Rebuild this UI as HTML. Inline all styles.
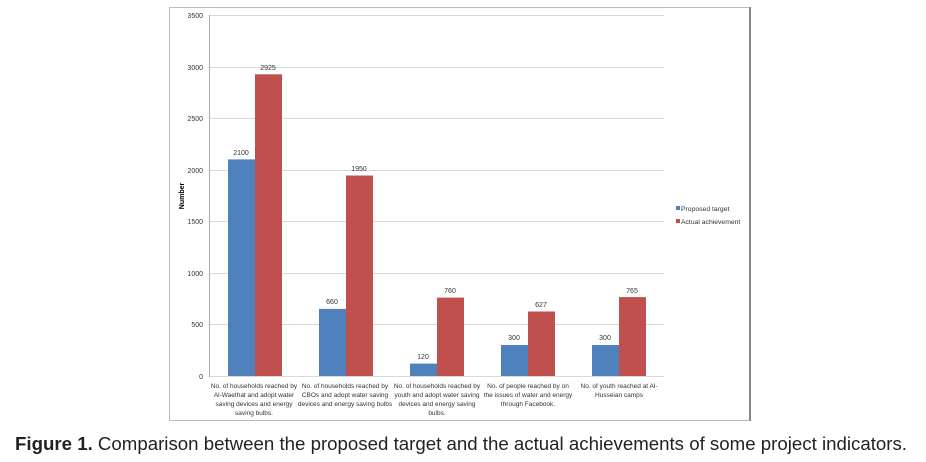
<!DOCTYPE html>
<html><head><style>
body{margin:0;background:#fff;width:926px;height:462px;overflow:hidden;font-family:"Liberation Sans",sans-serif}
</style></head><body>
<svg width="926" height="462" style="position:absolute;left:0;top:0" font-family="Liberation Sans, sans-serif">
<rect x="169.5" y="7.5" width="580" height="413" fill="#fff" stroke="#bbb" stroke-width="1"/>
<line x1="750" y1="7" x2="750" y2="421" stroke="#888" stroke-width="2"/>
<g stroke="#d9d9d9" stroke-width="1">
<line x1="209" y1="15.5" x2="664" y2="15.5"/>
<line x1="209" y1="67.5" x2="664" y2="67.5"/>
<line x1="209" y1="118.5" x2="664" y2="118.5"/>
<line x1="209" y1="170.5" x2="664" y2="170.5"/>
<line x1="209" y1="221.5" x2="664" y2="221.5"/>
<line x1="209" y1="273.5" x2="664" y2="273.5"/>
<line x1="209" y1="324.5" x2="664" y2="324.5"/>
<line x1="209" y1="376.5" x2="664" y2="376.5"/>
</g>
<line x1="209.5" y1="15" x2="209.5" y2="377" stroke="#aaa"/>
<g font-size="7" fill="#333" text-anchor="end">
<text x="203" y="18">3500</text><text x="203" y="70">3000</text><text x="203" y="121">2500</text>
<text x="203" y="173">2000</text><text x="203" y="224">1500</text><text x="203" y="276">1000</text>
<text x="203" y="327">500</text><text x="203" y="379">0</text>
</g>
<text x="184" y="196" font-size="7" font-weight="bold" transform="rotate(-90 184 196)" text-anchor="middle">Number</text>
<g fill="#4f81bd">
<rect x="228" y="159.4" width="27" height="216.6"/>
<rect x="319" y="308.9" width="27" height="67.1"/>
<rect x="410" y="363.6" width="27" height="12.4"/>
<rect x="501" y="345" width="27" height="31"/>
<rect x="592" y="345" width="27" height="31"/>
</g>
<g fill="#c0504d">
<rect x="255" y="74.3" width="27" height="301.7"/>
<rect x="346" y="175.5" width="27" height="200.5"/>
<rect x="437" y="297.6" width="27" height="78.4"/>
<rect x="528" y="311.5" width="27" height="64.5"/>
<rect x="619" y="297.1" width="27" height="78.9"/>
</g>
<g font-size="7" fill="#333" text-anchor="middle">
<text x="241" y="155">2100</text><text x="268" y="70">2925</text>
<text x="332" y="304">660</text><text x="359" y="171">1950</text>
<text x="423" y="359">120</text><text x="450" y="293">760</text>
<text x="514" y="340">300</text><text x="541" y="307">627</text>
<text x="605" y="340">300</text><text x="632" y="293">765</text>
</g>
<g font-size="6.5" fill="#333" text-anchor="middle">
<text x="254" y="388">No. of households reached by</text><text x="254" y="397">Al-Waethat and adopt water</text><text x="254" y="406">saving devices and energy</text><text x="254" y="415">saving bulbs.</text>
<text x="345" y="388">No. of households reached by</text><text x="345" y="397">CBOs and adopt water saving</text><text x="345" y="406">devices and energy saving bulbs</text>
<text x="437" y="388">No. of households reached by</text><text x="437" y="397">youth and adopt water saving</text><text x="437" y="406">devices and energy saving</text><text x="437" y="415">bulbs.</text>
<text x="528" y="388">No. of people reached by on</text><text x="528" y="397">the issues of water and energy</text><text x="528" y="406">through Facebook.</text>
<text x="619" y="388">No. of youth reached at Al-</text><text x="619" y="397">Husseian camps</text>
</g>
<rect x="676" y="206" width="4" height="4" fill="#4f81bd"/>
<rect x="676" y="219" width="4" height="4" fill="#c0504d"/>
<g font-size="6.8" fill="#333"><text x="681" y="211">Proposed target</text><text x="681" y="224">Actual achievement</text></g>
<text x="15" y="450" font-size="18" fill="#222" textLength="892" lengthAdjust="spacingAndGlyphs"><tspan font-weight="bold">Figure 1.</tspan> Comparison between the proposed target and the actual achievements of some project indicators.</text>
</svg>
</body></html>
